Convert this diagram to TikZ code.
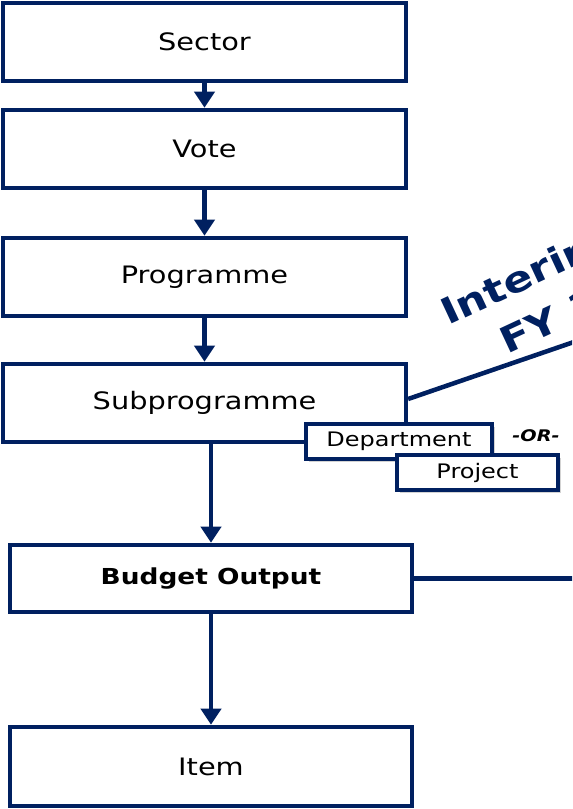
\documentclass[tikz,border=0pt]{standalone}
\usepackage{fontspec}
\setmainfont{DejaVu Sans}[FakeStretch=1.2]
\usetikzlibrary{arrows.meta, shadows}
\definecolor{navy}{HTML}{002060}

\begin{document}
\begin{tikzpicture}[x=0.75pt, y=-0.75pt,
    box/.style={draw=navy, line width=3.4pt, fill=white, minimum width=302pt,
                minimum height=58.5pt, text=black,
                font=\fontsize{18}{20}\selectfont},
    unit/.style={draw=navy, line width=3pt, fill=white, minimum height=26pt,
                 text=black, font=\fontsize{15}{17}\selectfont,
                 drop shadow={shadow xshift=2pt, shadow yshift=-2pt, opacity=0.35}},
    arrow/.style={draw=navy, line width=3.4pt, -{Triangle[width=15pt,length=12pt]}},
    link/.style={draw=navy, line width=3.4pt}]
    \useasboundingbox (0,0) rectangle (572,809);
    \clip (0,0) rectangle (572,809);

    \node[box] (sector)    at (204.5, 42)  {Sector};
    \node[box] (vote)      at (204.5, 149) {Vote};
    \node[box] (programme) at (204.5, 277) {Programme};
    \node[box] (subprog)   at (204.5, 403) {Subprogramme};
    \node[box, minimum width=301.5pt, minimum height=50.25pt,
          font=\bfseries\fontsize{16.5}{18}\selectfont] (budget) at (211, 578.5)
          {Budget Output};
    \node[box, minimum width=301.5pt, minimum height=59.25pt] (item) at (211, 766.5)
          {Item};

    \draw[arrow] (sector) -- (vote);
    \draw[arrow] (vote) -- (programme);
    \draw[arrow] (programme) -- (subprog);
    \draw[arrow] (subprog.south -| budget.north) -- (budget);
    \draw[arrow] (budget) -- (item);

    % lines running off to the right
    \coordinate (interimend) at (600, 333);
    \coordinate (outputend)  at (600, 578.5);
    \draw[link] ([yshift=3pt]subprog.east) -- (interimend);
    \draw[link] (budget.east) -- (outputend);

    \node[rotate=25, anchor=base west, inner sep=0, text=navy,
          font=\bfseries\fontsize{27}{30}\selectfont] (interim) at (448, 326) {Interim};
    \node[rotate=25, anchor=base west, inner sep=0, text=navy,
          font=\bfseries\fontsize{27}{30}\selectfont] (fy) at (507, 355) {FY 1};

    \node[unit, minimum width=139.5pt] (dept) at (399, 441.5) {Department};
    \node[unit, minimum width=120.75pt] (project) at (477.5, 472.5) {Project};
    \node[font=\bfseries\itshape\fontsize{12}{13}\selectfont] (or) at (536, 436) {-OR-};
\end{tikzpicture}
\end{document}
